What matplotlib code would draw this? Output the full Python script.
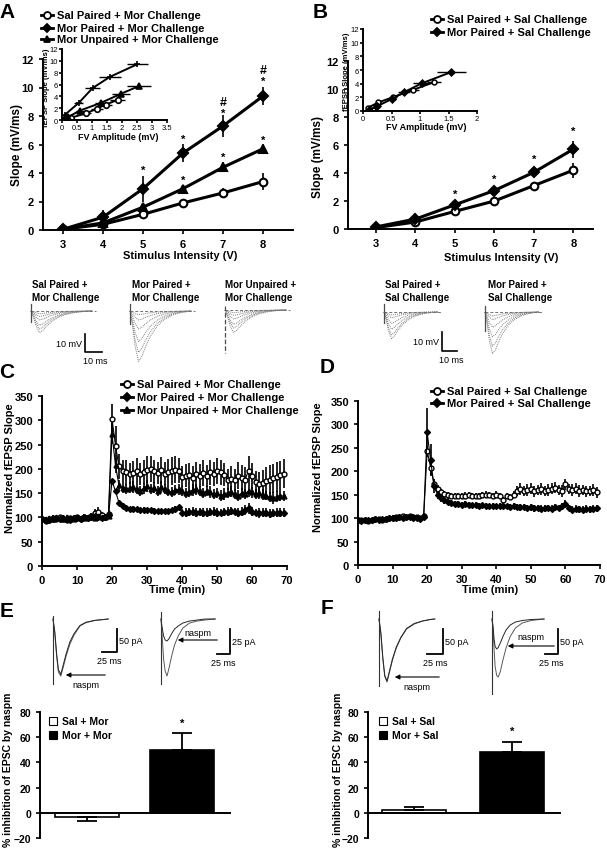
import matplotlib
matplotlib.use("Agg")
import matplotlib.pyplot as plt
from matplotlib.lines import Line2D
import numpy as np

plt.rcParams["font.family"] = ["Liberation Sans", "DejaVu Sans"]
plt.rcParams["font.weight"] = "bold"

W, H = 607, 853

# ---------------- data ----------------
stim_v = [3, 4, 5, 6, 7, 8]

a_sal = [0.05, 0.4, 1.1, 1.9, 2.6, 3.4]
a_sal_err = [0.05, 0.1, 0.15, 0.15, 0.35, 0.6]
a_morp = [0.05, 0.9, 2.9, 5.4, 7.3, 9.4]
a_morp_err = [0.05, 0.5, 0.9, 0.65, 0.75, 0.65]
a_morun = [0.05, 0.5, 1.6, 2.9, 4.4, 5.7]
a_morun_err = [0.05, 0.1, 0.2, 0.15, 0.35, 0.35]
a_star_x = [5, 6, 7, 8, 6, 7, 8]
a_star_y = [4.2, 6.4, 8.2, 10.5, 3.5, 5.1, 6.3]
a_hash_x = [7, 8]
a_hash_y = [9.0, 11.2]

# inset A: FV amplitude vs slope
ia_sal_fv = [0.05, 0.3, 0.8, 1.15, 1.46, 1.85]
ia_sal_fv_err = [0.05, 0.1, 0.15, 0.2, 0.2, 0.25]
ia_morp_fv = [0.05, 0.1, 0.56, 1.02, 1.6, 2.5]
ia_morp_fv_err = [0.2, 0.2, 0.15, 0.25, 0.37, 0.35]
ia_morun_fv = [0.05, 0.2, 0.6, 1.3, 1.95, 2.55]
ia_morun_fv_err = [0.05, 0.1, 0.15, 0.2, 0.3, 0.4]

b_sal = [0.1, 0.5, 1.26, 2.0, 3.1, 4.2]
b_sal_err = [0.05, 0.1, 0.1, 0.12, 0.2, 0.55]
b_morp = [0.15, 0.71, 1.73, 2.75, 4.05, 5.7]
b_morp_err = [0.05, 0.1, 0.12, 0.15, 0.25, 0.6]
b_star_x = [5, 6, 7, 8]
b_star_y = [2.5, 3.6, 5.0, 7.0]

ib_sal_fv = [0.18, 0.09, 0.27, 0.52, 0.88, 1.24]
ib_sal_fv_err = [0.03, 0.03, 0.05, 0.07, 0.1, 0.12]
ib_morp_fv = [0.1, 0.25, 0.5, 0.72, 1.03, 1.55]
ib_morp_fv_err = [0.03, 0.05, 0.08, 0.1, 0.15, 0.25]

# field potential trace families (normalised waveform x peak depth per intensity)
fp_t = [0, 1.5, 3, 5, 7, 9, 12, 16, 20, 25, 30, 36]
fp_shape = [0, -0.3, -0.7, -1.0, -0.9, -0.72, -0.5, -0.3, -0.17, -0.08, -0.03, 0]
fp_labels = ["Sal Paired +\nMor Challenge", "Mor Paired +\nMor Challenge",
             "Mor Unpaired +\nMor Challenge", "Sal Paired +\nSal Challenge",
             "Mor Paired +\nSal Challenge"]
fp_depths = [[1.5, 3, 5, 8, 10, 12],
             [2, 5, 10, 17, 23, 28],
             [1.5, 3, 5, 8, 10, 12.5],
             [1.5, 3, 6, 9, 12, 14],
             [2, 4, 8, 13, 18, 22]]
fp_artifact = [(4, -6), (4, -7), (2, -24), (4, -6), (3, -10)]

# time course (min)
t_min = list(range(70))
c_sal = [97, 93, 95, 99, 96, 100, 97, 94, 99, 98, 100, 97, 101, 99, 103, 110, 112, 105, 100, 108,
         303, 248, 205, 195, 193, 190, 192, 196, 190, 193, 198, 200, 195, 192, 197, 190, 194, 195, 198, 196,
         184, 186, 188, 182, 189, 186, 191, 185, 193, 190, 195, 193, 188, 178, 180, 177, 186, 182, 178, 196,
         186, 172, 168, 171, 175, 178, 181, 184, 187, 190]
c_sal_err = [5, 4, 6, 5, 4, 6, 5, 5, 4, 6, 5, 5, 6, 5, 6, 8, 9, 7, 6, 7,
             30, 40, 25, 24, 26, 22, 25, 27, 23, 25, 28, 27, 24, 23, 28, 24, 27, 29, 28, 26,
             22, 24, 25, 23, 26, 24, 27, 22, 26, 25, 27, 26, 24, 22, 25, 23, 28, 26, 25, 30,
             27, 24, 25, 26, 28, 29, 30, 31, 30, 30]
c_morp = [96, 95, 94, 97, 98, 96, 99, 97, 95, 98, 99, 97, 100, 98, 101, 102, 100, 99, 101, 104,
          175, 154, 130, 124, 120, 118, 118, 117, 116, 116, 115, 115, 114, 114, 114, 113, 114, 115, 118, 121,
          110, 110, 111, 112, 110, 111, 110, 110, 111, 112, 110, 110, 111, 112, 113, 112, 110, 112, 115, 119,
          112, 110, 109, 110, 110, 108, 109, 110, 110, 110]
c_morp_err = [4, 5, 4, 5, 4, 4, 5, 4, 5, 4, 4, 5, 4, 4, 5, 4, 5, 4, 4, 5,
              0, 3, 5, 5, 4, 4, 5, 4, 4, 5, 4, 4, 5, 4, 4, 5, 4, 4, 5, 5,
              8, 9, 8, 10, 9, 8, 10, 9, 8, 9, 10, 8, 9, 10, 9, 8, 10, 9, 10, 11,
              9, 8, 10, 9, 9, 10, 9, 10, 9, 9]
c_morun = [98, 97, 99, 96, 100, 98, 97, 101, 99, 96, 100, 98, 99, 101, 100, 99, 102, 100, 101, 103,
           272, 207, 166, 160, 158, 161, 163, 158, 155, 160, 165, 158, 161, 155, 163, 158, 155, 152, 156, 158,
           155, 150, 153, 156, 158, 155, 150, 155, 152, 148, 150, 145, 148, 151, 153, 148, 145, 150, 148, 155,
           152, 148, 150, 147, 145, 142, 140, 143, 145, 144]
c_morun_err = [3, 4, 3, 4, 3, 4, 3, 3, 4, 3, 4, 3, 3, 4, 3, 4, 3, 4, 3, 4,
               20, 15, 12, 10, 10, 11, 12, 10, 10, 11, 12, 10, 11, 10, 12, 10, 11, 10, 10, 11,
               10, 11, 10, 12, 11, 10, 11, 10, 12, 11, 10, 11, 12, 10, 11, 10, 12, 11, 10, 12,
               11, 10, 12, 11, 10, 11, 12, 11, 12, 11]

d_sal = [96, 95, 97, 93, 96, 99, 98, 97, 99, 100, 101, 103, 102, 104, 103, 105, 103, 102, 100, 105,
         244, 208, 173, 162, 155, 151, 149, 148, 147, 148, 147, 148, 149, 148, 147, 148, 149, 150, 149, 148,
         150, 148, 138, 147, 146, 150, 158, 162, 158, 160, 163, 157, 160, 162, 158, 160, 163, 165, 160, 158,
         172, 162, 160, 163, 158, 160, 157, 158, 160, 155]
d_sal_err = [4, 5, 4, 4, 5, 4, 4, 5, 4, 4, 5, 4, 4, 5, 4, 4, 5, 4, 4, 5,
             10, 15, 10, 8, 7, 7, 6, 6, 7, 6, 6, 7, 6, 6, 7, 6, 6, 7, 6, 6,
             7, 6, 8, 7, 6, 8, 11, 12, 11, 12, 11, 12, 11, 12, 11, 12, 11, 12, 11, 12,
             12, 11, 12, 11, 12, 11, 12, 11, 12, 11]
d_morp = [95, 94, 96, 95, 97, 98, 97, 99, 98, 100, 101, 100, 102, 101, 103, 102, 101, 100, 99, 103,
          283, 224, 168, 150, 142, 138, 135, 133, 131, 130, 129, 130, 128, 127, 128, 126, 127, 126, 125, 126,
          125, 126, 125, 125, 124, 126, 124, 123, 124, 122, 123, 121, 122, 120, 121, 122, 120, 123, 122, 125,
          130, 122, 118, 120, 119, 118, 120, 119, 120, 121]
d_morp_err = [3, 4, 3, 4, 3, 4, 3, 4, 3, 4, 3, 4, 3, 4, 3, 4, 3, 4, 3, 4,
              52, 35, 15, 10, 8, 7, 7, 6, 6, 6, 6, 6, 6, 6, 6, 6, 6, 6, 6, 6,
              6, 6, 6, 6, 6, 7, 7, 7, 7, 7, 7, 7, 7, 7, 7, 7, 7, 7, 7, 7,
              8, 7, 7, 7, 7, 7, 7, 7, 7, 7]

# EPSC traces (ms, pA)
epsc_t = [[0, 3, 6, 9, 13, 17, 22, 28, 35, 45, 55, 70, 85, 92],
          [0, 2, 5, 8, 11.5, 15, 20, 26, 33, 42, 55, 70, 85, 104],
          [0, 3, 6, 9, 12.5, 16, 21, 27, 34, 43, 55, 68, 80, 87],
          [0, 2, 4, 6, 9, 12, 16, 21, 27, 35, 45, 58, 75, 100]]
epsc_ctrl = [[0, -30, -80, -115, -124, -105, -80, -55, -35, -15, -8, -3, -1, 0],
             [0, -15, -40, -52, -57, -50, -38, -26, -17, -9, -4, -2, -1, 0],
             [0, -30, -80, -115, -126, -108, -82, -58, -38, -20, -10, -4, -1, 0],
             [0, -20, -60, -95, -113, -116, -105, -82, -58, -35, -18, -8, -3, 0]]
epsc_naspm = [[0, -28, -75, -110, -120, -100, -75, -50, -32, -14, -7, -3, -1, 0],
              [0, -8, -17, -21, -22, -20, -15, -10, -7, -4, -2, -1, 0, 0],
              [0, -29, -78, -113, -124, -106, -80, -56, -37, -19, -9, -4, -1, 0],
              [0, -15, -40, -55, -60, -57, -48, -35, -22, -12, -6, -3, -1, 0]]
epsc_artifact = [(7, -140), (7, -65), (16, -134), (16, -150)]
epsc_scale_pa = [50, 25, 50, 50]

e_groups = ["Sal + Mor", "Mor + Mor"]
e_vals = [-3, 50]
e_err_lo = [3.2, 0]
e_err_hi = [0, 13]
f_groups = ["Sal + Sal", "Mor + Sal"]
f_vals = [2, 48]
f_err_hi = [2.5, 8]


# ---------------- helpers ----------------
fig = plt.figure(figsize=(W / 100, H / 100), dpi=100)


def box(l, t, r, b):
    return [l / W, 1 - b / H, (r - l) / W, (b - t) / H]


def ftext(x, y, s, **kw):
    fig.text(x / W, 1 - y / H, s, **kw)


def style_ax(ax, fs=8):
    for s in ["top", "right"]:
        ax.spines[s].set_visible(False)
    for s in ["left", "bottom"]:
        ax.spines[s].set_linewidth(1.4)
    ax.tick_params(labelsize=fs, width=1.2, length=3)
    for lab in ax.get_xticklabels() + ax.get_yticklabels():
        lab.set_fontweight("bold")


def legend_entry(xm, y, marker, mfc, label, fs=8, ms=5):
    fig.add_artist(Line2D([(xm - 6) / W, (xm + 6) / W], [1 - y / H, 1 - y / H],
                          transform=fig.transFigure, color="k", lw=2))
    fig.add_artist(Line2D([xm / W], [1 - y / H], transform=fig.transFigure, marker=marker,
                          mfc=mfc, mec="k", mew=1.3, ms=ms, color="k"))
    ftext(xm + 10, y, label, fontsize=fs, va="center", ha="left", fontweight="bold")


def trace_axes(x0, y0, xs, ys, l, t, r, b):
    ax = fig.add_axes(box(l, t, r, b))
    ax.set_xlim((l - x0) * xs, (r - x0) * xs)
    ax.set_ylim(-(b - y0) * ys, (y0 - t) * ys)
    ax.axis("off")
    return ax


def slope_series(ax, y, err, marker, mfc, ms=5.5):
    ax.errorbar(stim_v, y, yerr=err, color="k", lw=2.2, marker=marker, mfc=mfc, mec="k",
                mew=1.5, ms=ms, capsize=0, elinewidth=1.2, zorder=3)


# ---------------- panel A ----------------
axA = fig.add_axes(box(43, 60, 293, 231))
slope_series(axA, a_sal, a_sal_err, "o", "white")
slope_series(axA, a_morp, a_morp_err, "D", "k", ms=5)
slope_series(axA, a_morun, a_morun_err, "^", "k")
for x, y in zip(a_star_x, a_star_y):
    axA.text(x, y, "*", ha="center", va="center", fontsize=8)
for x, y in zip(a_hash_x, a_hash_y):
    axA.text(x, y, "#", ha="center", va="center", fontsize=9)
axA.set_xlim(2.5, 8.75)
axA.set_ylim(0, 12)
axA.set_xticks(stim_v)
axA.set_yticks(range(0, 13, 2))
style_ax(axA)
ftext(17, 145, "Slope (mV/ms)", rotation=90, fontsize=8.5, ha="center", va="center")
ftext(180, 256, "Stimulus Intensity (V)", fontsize=8, ha="center", va="center")

iaA = fig.add_axes(box(62, 50, 167, 121))
iaA.patch.set_alpha(0)
for fv, fe, y, m, fc in [(ia_sal_fv, ia_sal_fv_err, a_sal, "o", "white"),
                         (ia_morp_fv, ia_morp_fv_err, a_morp, "+", "k"),
                         (ia_morun_fv, ia_morun_fv_err, a_morun, "^", "k")]:
    iaA.errorbar(fv, y, xerr=fe, color="k", lw=1.4, marker=m, mfc=fc, mec="k", ms=4,
                 mew=1.2, capsize=0, elinewidth=1)
iaA.set_xlim(0, 3.5)
iaA.set_ylim(0, 12)
iaA.set_xticks(np.arange(0, 3.6, 0.5))
iaA.set_xticklabels(["0", "0.5", "1", "1.5", "2", "2.5", "3", "3.5"])
iaA.set_yticks(range(0, 13, 2))
style_ax(iaA, fs=5.5)
for lab in iaA.get_xticklabels() + iaA.get_yticklabels():
    lab.set_fontweight("normal")
iaA.tick_params(length=2, pad=1)
ftext(47, 88, "fEPSP Slope (mV/ms)", rotation=90, fontsize=5.5, ha="center", va="center")
ftext(118, 138, "FV Amplitude (mV)", fontsize=6.5, ha="center", va="center")

legend_entry(47, 16, "o", "white", "Sal Paired + Mor Challenge")
legend_entry(47, 29, "D", "k", "Mor Paired + Mor Challenge", ms=4.5)
legend_entry(47, 40, "^", "k", "Mor Unpaired + Mor Challenge")

# ---------------- panel B ----------------
axB = fig.add_axes(box(348, 62, 593, 230))
slope_series(axB, b_sal, b_sal_err, "o", "white")
slope_series(axB, b_morp, b_morp_err, "D", "k", ms=5)
for x, y in zip(b_star_x, b_star_y):
    axB.text(x, y, "*", ha="center", va="center", fontsize=8)
axB.set_xlim(2.29, 8.5)
axB.set_ylim(0, 12)
axB.set_xticks(stim_v)
axB.set_yticks(range(0, 13, 2))
style_ax(axB)
ftext(318, 157, "Slope (mV/ms)", rotation=90, fontsize=8.5, ha="center", va="center")
ftext(501, 258, "Stimulus Intensity (V)", fontsize=8, ha="center", va="center")

iaB = fig.add_axes(box(363, 30, 477, 112))
iaB.patch.set_alpha(0)
for fv, fe, y, m, fc in [(ib_sal_fv, ib_sal_fv_err, b_sal, "o", "white"),
                         (ib_morp_fv, ib_morp_fv_err, b_morp, "D", "k")]:
    iaB.errorbar(fv, y, xerr=fe, color="k", lw=1.4, marker=m, mfc=fc, mec="k", ms=3.5,
                 mew=1.1, capsize=0, elinewidth=1)
iaB.set_xlim(0, 2)
iaB.set_ylim(0, 12)
iaB.set_xticks([0, 0.5, 1, 1.5, 2])
iaB.set_xticklabels(["0", "0.5", "1", "1.5", "2"])
iaB.set_yticks(range(0, 13, 2))
style_ax(iaB, fs=5.5)
for lab in iaB.get_xticklabels() + iaB.get_yticklabels():
    lab.set_fontweight("normal")
iaB.tick_params(length=2, pad=1)
ftext(346, 72, "fEPSP Slope (mV/ms)", rotation=90, fontsize=5.5, ha="center", va="center")
ftext(426, 127, "FV Amplitude (mV)", fontsize=6.5, ha="center", va="center")

legend_entry(437, 20, "o", "white", "Sal Paired + Sal Challenge")
legend_entry(437, 33, "D", "k", "Mor Paired + Sal Challenge", ms=4.5)

# ---------------- field potential traces ----------------
fp_geom = [  # origin x, origin y, ms/px, mV/px, box
    (31, 312, 0.588, 0.556, (25, 300, 110, 368)),
    (130, 312, 0.588, 0.556, (124, 300, 200, 368)),
    (225, 311, 0.588, 0.556, (219, 300, 300, 368)),
    (384, 313, 0.667, 0.526, (378, 300, 475, 368)),
    (485, 313, 0.667, 0.526, (479, 300, 560, 368)),
]
fp_label_x = [32, 132, 225, 385, 488]
fp_axes = []
for i, (x0, y0, xs, ys, bx) in enumerate(fp_geom):
    ax = trace_axes(x0, y0, xs, ys, *bx)
    fp_axes.append(ax)
    for d in fp_depths[i]:
        ax.plot(fp_t, [d * s for s in fp_shape], color="0.5", lw=0.7, ls=(0, (1, 1)))
    ax.plot([fp_t[0], fp_t[-1] + 2], [0, 0], color="0.45", lw=0.7, ls=(0, (3, 2)))
    top, bot = fp_artifact[i]
    ax.plot([0, 0], [top, bot], color="0.3", lw=0.9, ls="--" if i == 2 else "-")
    ftext(fp_label_x[i], 285, fp_labels[i].split("\n")[0], fontsize=7, ha="left", va="center")
    ftext(fp_label_x[i], 298, fp_labels[i].split("\n")[1], fontsize=7, ha="left", va="center")

# scale bars 10 mV / 10 ms
for ax, (tc, vc) in [(fp_axes[0], (31.8, -22.8)), (fp_axes[3], (38.7, -20.5))]:
    ax.plot([tc, tc, tc + 10], [vc + 10, vc, vc], color="k", lw=1.2, clip_on=False)
    ax.text(tc - 2, vc + 5, "10 mV", ha="right", va="center", fontsize=6.5, fontweight="normal")
    ax.text(tc + 6, vc - 2, "10 ms", ha="center", va="top", fontsize=6.5, fontweight="normal")

# ---------------- panel C ----------------
def time_series(ax, y, err, marker, mfc, ms=3.5):
    ax.errorbar(t_min, y, yerr=err, color="k", lw=0.8, marker=marker, mfc=mfc, mec="k",
                mew=1.0, ms=ms, capsize=0, elinewidth=1.2)


axC = fig.add_axes(box(42, 397, 287, 567))
time_series(axC, c_sal, c_sal_err, "o", "white")
time_series(axC, c_morun, c_morun_err, "^", "k")
time_series(axC, c_morp, c_morp_err, "D", "k", ms=3)
axC.set_xlim(0, 70)
axC.set_ylim(0, 350)
axC.set_xticks(range(0, 71, 10))
axC.set_yticks(range(0, 351, 50))
style_ax(axC)
ftext(10, 468, "Normalized fEPSP Slope", rotation=90, fontsize=8, ha="center", va="center")
ftext(177, 590, "Time (min)", fontsize=8, ha="center", va="center")
legend_entry(127, 385, "o", "white", "Sal Paired + Mor Challenge")
legend_entry(127, 398, "D", "k", "Mor Paired + Mor Challenge", ms=4.5)
legend_entry(127, 411, "^", "k", "Mor Unpaired + Mor Challenge")

# ---------------- panel D ----------------
axD = fig.add_axes(box(358, 402, 600, 566))
time_series(axD, d_sal, d_sal_err, "o", "white")
time_series(axD, d_morp, d_morp_err, "D", "k", ms=3)
axD.set_xlim(0, 70)
axD.set_ylim(0, 350)
axD.set_xticks(range(0, 71, 10))
axD.set_yticks(range(0, 351, 50))
style_ax(axD)
ftext(318, 467, "Normalized fEPSP Slope", rotation=90, fontsize=8, ha="center", va="center")
ftext(490, 590, "Time (min)", fontsize=8, ha="center", va="center")
legend_entry(437, 392, "o", "white", "Sal Paired + Sal Challenge")
legend_entry(437, 404, "D", "k", "Mor Paired + Sal Challenge", ms=4.5)

# ---------------- EPSC traces ----------------
epsc_geom = [  # origin x, origin y, ms/px, pA/px, box, arrow(from px, to px, y px), label y px
    (53, 620, 1.667, 2.17, (45, 605, 152, 692), (108, 63, 676), 686),
    (161, 620, 1.92, 1.0, (155, 605, 265, 692), (220, 175, 641), 634),
    (379, 620, 1.56, 2.0, (372, 605, 480, 695), (442, 392, 678), 688),
    (492, 620, 1.92, 2.0, (485, 605, 600, 700), (557, 505, 647), 638),
]
epsc_scale_x = [117, 230, 443, 558]
for i, (x0, y0, xs, ys, bx, arr, ly) in enumerate(epsc_geom):
    ax = trace_axes(x0, y0, xs, ys, *bx)
    ax.plot(epsc_t[i], epsc_ctrl[i], color="0.35", lw=0.7)
    ax.plot(epsc_t[i], epsc_naspm[i], color="0.15", lw=0.7)
    top, bot = epsc_artifact[i]
    ax.plot([0, 0], [top, bot], color="0.2", lw=0.8)
    a0, a1, ay = arr
    ax.annotate("", xy=((a1 - x0) * xs, -(ay - y0) * ys), xytext=((a0 - x0) * xs, -(ay - y0) * ys),
                arrowprops=dict(arrowstyle="-|>", color="k", lw=0.8, mutation_scale=7))
    ax.text(((a0 + a1) / 2 - x0) * xs, -(ly - y0) * ys, "naspm", ha="center", va="center",
            fontsize=6.5, fontweight="normal")
    # scale bar
    sx = (epsc_scale_x[i] - x0) * xs
    sy = -(655 - y0) * ys if i != 0 else -(653 - y0) * ys
    pa = epsc_scale_pa[i]
    ax.plot([sx - 25, sx, sx], [sy, sy, sy + pa], color="k", lw=1.3, clip_on=False)
    ax.text(sx + 2 * xs, sy + pa / 2, f"{pa} pA", ha="left", va="center", fontsize=6.5,
            fontweight="normal")
    ax.text(sx - 12.5, sy - 4 * ys, "25 ms", ha="center", va="top", fontsize=6.5,
            fontweight="normal")

# ---------------- panels E / F bars ----------------
def bar_panel(l, r, pos, vals, err_lo, err_hi, groups, star_y):
    ax = fig.add_axes(box(l, 713, r, 839))
    ax.bar(pos, vals, width=1, color=["white", "black"], edgecolor="k", lw=1.2)
    ax.errorbar(pos, vals, yerr=[err_lo, err_hi], fmt="none", ecolor="k", elinewidth=1.3,
                capsize=7, capthick=1.3)
    ax.text(pos[1], star_y, "*", ha="center", va="center", fontsize=8)
    ax.set_ylim(-20, 80)
    ax.set_yticks(range(-20, 81, 20))
    ax.set_xticks([])
    ax.spines["bottom"].set_position(("data", 0))
    style_ax(ax, fs=7.5)
    return ax


axE = bar_panel(40, 230, [0, 1.5], e_vals, e_err_lo, e_err_hi, e_groups, 71)
axE.set_xlim(-0.74, 2.26)
axF = bar_panel(368, 560, [0, 1.53], f_vals, [0, 0], f_err_hi, f_groups, 65)
axF.set_xlim(-0.72, 2.28)

for xm, groups in [(53, e_groups), (383, f_groups)]:
    for j, g in enumerate(groups):
        y = 722 + 14 * j
        fig.add_artist(plt.Rectangle(((xm - 4) / W, 1 - (y + 4) / H), 8 / W, 8 / H,
                                     transform=fig.transFigure,
                                     facecolor="white" if j == 0 else "black",
                                     edgecolor="k", lw=0.8))
        ftext(xm + 9, y, g, fontsize=7.5, ha="left", va="center")

ftext(8, 770, "% inhibition of EPSC by naspm", rotation=90, fontsize=7.5, ha="center",
      va="center")
ftext(338, 770, "% inhibition of EPSC by naspm", rotation=90, fontsize=7.5, ha="center",
      va="center")

# panel letters
for s, x, y in [("A", 7, 12), ("B", 320, 12), ("C", 7, 373), ("D", 327, 368),
                ("E", 7, 612), ("F", 327, 608)]:
    ftext(x, y, s, fontsize=15, ha="center", va="center")

fig.savefig("out.png", dpi=100)
